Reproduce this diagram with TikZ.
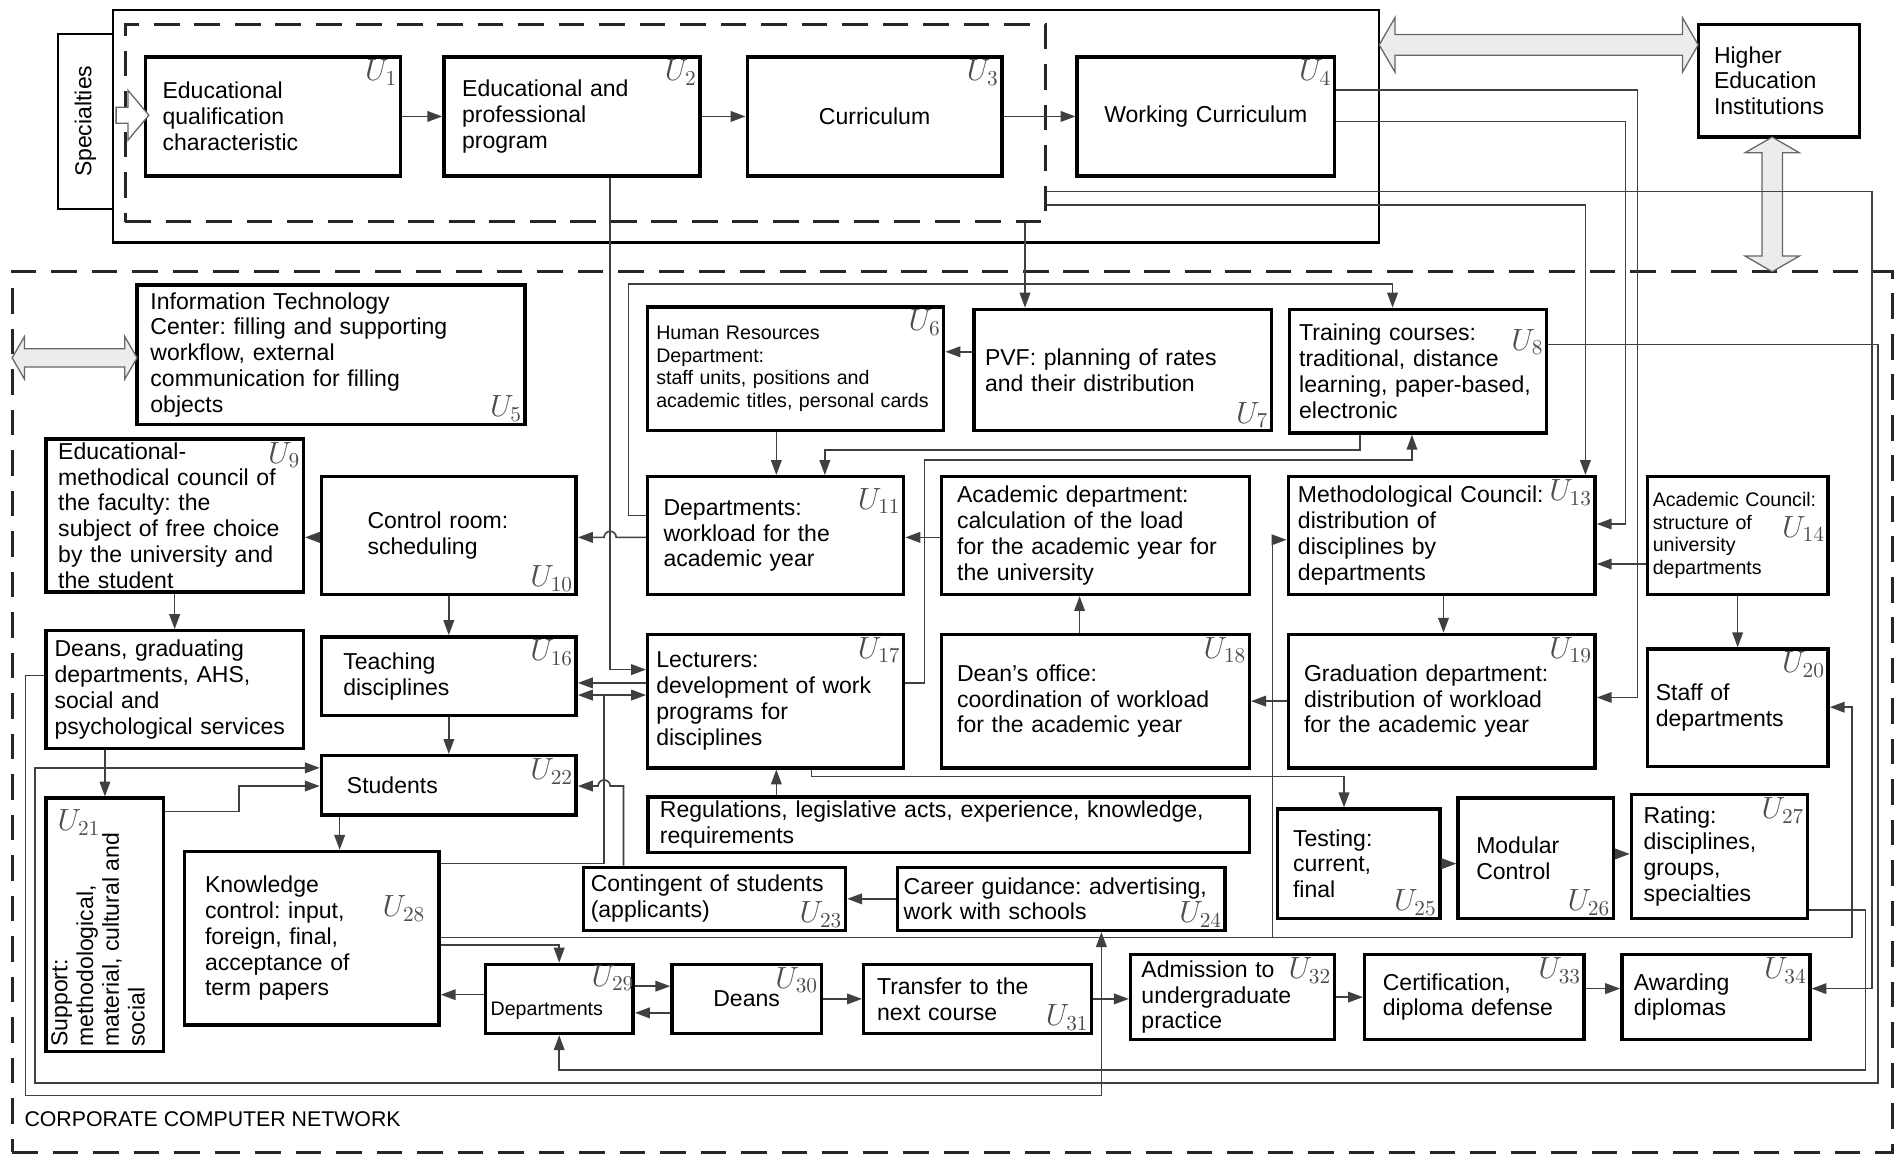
\documentclass[tikz,border=0pt]{standalone}
\usepackage{fontspec}
\setmainfont{Liberation Sans}
\frenchspacing
\usepackage{tikz}
\usetikzlibrary{arrows.meta, shapes.arrows}
\tikzset{
  box/.style={rectangle, draw=black, line width=1.6pt, inner sep=0pt, align=left, font=\fontsize{10.8}{12.1}\selectfont},
  smallbox/.style={box, font=\fontsize{9.2}{10.6}\selectfont},
  frame/.style={rectangle, draw=black, line width=1.1pt, inner sep=0pt},
  dashframe/.style={rectangle, draw=black!85, line width=1.4pt, dash pattern=on 12pt off 7pt, inner sep=0pt},
  conn/.style={draw=black!75, line width=0.75pt},
  arrowline/.style={conn, -{Triangle[length=7pt, width=5pt]}},
  fatarrow/.style={double arrow, draw=black!60, fill=gray!15, line width=0.6pt, inner xsep=0pt, inner ysep=0.16cm, double arrow head extend=0.28cm, double arrow tip angle=120},
  ulab/.style={font=\Large, text=black!70, inner sep=2pt},
  utr/.style={label={[ulab, anchor=north east]north east:$U_{#1}$}},
  ubr/.style={label={[ulab, anchor=south east]south east:$U_{#1}$}},
}

\begin{document}
\begin{tikzpicture}[x=0.02cm, y=-0.02cm]
\useasboundingbox (0,0) rectangle (1568,960);
% frames
\node[dashframe, minimum width=31cm, minimum height=14.52cm] (ccn) at (785,587) {};
\node[frame, minimum width=20.88cm, minimum height=3.84cm] (top) at (615,104) {};
\node[dashframe, minimum width=15.18cm, minimum height=3.26cm] (core) at (482.5,101.5) {};
\node[frame, line width=1pt, minimum width=0.9cm, minimum height=2.88cm] (spec) at (70.5,100) {};
\node[rotate=90, font=\fontsize{10.8}{12.1}\selectfont] (spectxt) at (spec) {Specialties};
\node[anchor=west, font=\fontsize{10}{12}\selectfont] (ccnlab) at (14,923) {CORPORATE COMPUTER NETWORK};

% blocks
\node[box, minimum width=4.2cm, minimum height=1.96cm, text width=3.64cm, utr=1] (u1) at (225,96) {Educational\\qualification\\characteristic};
\node[box, minimum width=4.22cm, minimum height=1.96cm, text width=3.62cm, utr=2] (u2) at (471.5,96) {Educational and\\professional\\program};
\node[box, align=center, minimum width=4.2cm, minimum height=1.96cm, text width=3.6cm, utr=3] (u3) at (721,96) {Curriculum};
\node[box, align=center, minimum width=4.24cm, minimum height=1.96cm, text width=3.9cm, utr=4] (u4) at (994,96) {Working Curriculum};
\node[box, minimum width=2.66cm, minimum height=1.86cm, text width=2.14cm] (hei) at (1466.5,66.5) {Higher\\Education\\Institutions};
\node[box, minimum width=6.4cm, minimum height=2.3cm, text width=5.96cm, ubr=5] (u5) at (273,292.5) {Information Technology\\Center: filling and supporting\\workflow, external\\communication for filling\\objects};
\node[smallbox, minimum width=4.88cm, minimum height=2.04cm, text width=4.6cm, utr=6] (u6) at (656,304) {Human Resources\\Department:\\staff units, positions and\\academic titles, personal cards};
\node[box, minimum width=4.9cm, minimum height=2cm, text width=4.54cm, ubr=7] (u7) at (925.5,305) {PVF: planning of rates\\and their distribution};
\node[box, minimum width=4.24cm, minimum height=2.04cm, text width=3.92cm, label={[ulab, anchor=north east, yshift=-8pt]north east:$U_{8}$}] (u8) at (1169,306) {Training courses:\\traditional, distance\\learning, paper-based,\\electronic};
\node[box, minimum width=4.24cm, minimum height=2.52cm, text width=3.84cm, utr=9] (u9) at (144,425) {Educational-\\methodical council of\\the faculty: the\\subject of free choice\\by the university and\\the student};
\node[box, minimum width=4.2cm, minimum height=1.94cm, text width=2.68cm, ubr=10] (u10) at (370,441.5) {Control room:\\scheduling};
\node[box, minimum width=4.22cm, minimum height=1.94cm, text width=3.7cm, label={[ulab, anchor=north east, yshift=-4pt]north east:$U_{11}$}] (u11) at (639.5,441.5) {Departments:\\workload for the\\academic year};
\node[box, minimum width=5.08cm, minimum height=1.94cm, text width=4.56cm] (u12) at (903,441.5) {Academic department:\\calculation of the load\\for the academic year for\\the university};
\node[box, minimum width=5.06cm, minimum height=1.94cm, text width=4.74cm, utr=13] (u13) at (1188.5,441.5) {Methodological Council:\\distribution of\\disciplines by\\departments};
\node[smallbox, minimum width=2.98cm, minimum height=1.94cm, text width=2.8cm, label={[ulab, anchor=east, yshift=3pt]east:$U_{14}$}] (u14) at (1432.5,441.5) {Academic Council:\\structure of\\university\\departments};
\node[box, minimum width=4.24cm, minimum height=1.94cm, text width=3.96cm] (u15) at (144,568.5) {Deans, graduating\\departments, AHS,\\social and\\psychological services};
\node[box, minimum width=4.2cm, minimum height=1.3cm, text width=3.48cm, utr=16] (u16) at (370,557.5) {Teaching\\disciplines};
\node[box, minimum width=4.22cm, minimum height=2.2cm, text width=3.94cm, utr=17] (u17) at (639.5,578) {Lecturers:\\development of work\\programs for\\disciplines};
\node[box, minimum width=5.08cm, minimum height=2.2cm, text width=4.56cm, utr=18] (u18) at (903,578) {Dean's office:\\coordination of workload\\for the academic year};
\node[box, minimum width=5.06cm, minimum height=2.2cm, text width=4.54cm, utr=19] (u19) at (1188.5,578) {Graduation department:\\distribution of workload\\for the academic year};
\node[box, minimum width=2.98cm, minimum height=1.94cm, text width=2.7cm, utr=20] (u20) at (1432.5,583.5) {Staff of\\departments};
\node[box, minimum width=1.94cm, minimum height=4.18cm, label={[ulab, anchor=north west, xshift=4pt, yshift=-4pt]north west:$U_{21}$}] (u21) at (86.5,762.5) {};
\node[rotate=90, anchor=north west, align=left, inner sep=3pt, font=\fontsize{10.8}{12.1}\selectfont] (u21txt) at (u21.south west) {Support:\\methodological,\\material, cultural and\\social};
\node[box, minimum width=4.2cm, minimum height=0.98cm, text width=3.36cm, utr=22] (u22) at (370,647.5) {Students};
\node[box, minimum width=9.92cm, minimum height=0.92cm, text width=9.52cm] (reg) at (782,680) {Regulations, legislative acts, experience, knowledge,\\requirements};
\node[box, minimum width=2.68cm, minimum height=1.8cm, text width=2.16cm, ubr=25] (u25) at (1120,712) {Testing:\\current,\\final};
\node[box, minimum width=2.56cm, minimum height=1.98cm, text width=1.96cm, ubr=26] (u26) at (1266,707.5) {Modular\\Control};
\node[box, minimum width=2.9cm, minimum height=2.04cm, text width=2.5cm, utr=27] (u27) at (1417.5,706) {Rating:\\disciplines,\\groups,\\specialties};
\node[box, minimum width=4.2cm, minimum height=2.86cm, text width=3.52cm, label={[ulab, anchor=east, xshift=-5pt, yshift=14pt]east:$U_{28}$}] (u28) at (257,773.5) {Knowledge\\control: input,\\foreign, final,\\acceptance of\\term papers};
\node[box, minimum width=4.32cm, minimum height=1.04cm, text width=4.08cm, ubr=23] (u23) at (589,741) {Contingent of students\\(applicants)};
\node[box, minimum width=5.4cm, minimum height=1.04cm, text width=5.2cm, ubr=24] (u24) at (875,741) {Career guidance: advertising,\\work with schools};
\node[smallbox, minimum width=2.44cm, minimum height=1.14cm, text width=2.26cm, text height=17pt, label={[ulab, anchor=north east, xshift=2pt, yshift=1pt]north east:$U_{29}$}] (u29) at (461,823.5) {Departments};
\node[box, align=center, minimum width=2.46cm, minimum height=1.14cm, text width=2cm, utr=30] (u30) at (615.5,823.5) {Deans};
\node[box, minimum width=3.76cm, minimum height=1.14cm, text width=3.32cm, ubr=31] (u31) at (806,823.5) {Transfer to the\\next course};
\node[box, minimum width=3.36cm, minimum height=1.4cm, text width=3cm, utr=32] (u32) at (1016,822) {Admission to\\undergraduate\\practice};
\node[box, minimum width=3.62cm, minimum height=1.4cm, text width=3.02cm, utr=33] (u33) at (1215.5,822) {Certification,\\diploma defense};
\node[box, minimum width=3.1cm, minimum height=1.4cm, text width=2.7cm, utr=34] (u34) at (1414.5,822) {Awarding\\diplomas};

% broad links
\node[single arrow, draw=black!60, fill=white, line width=0.6pt, inner xsep=0pt, inner ysep=0.12cm, single arrow head extend=0.28cm, single arrow tip angle=100, minimum height=0.54cm] (specin) at (106.5,95) {};
\node[fatarrow, minimum height=5.26cm] (heilink) at (1268.5,37) {};
\node[fatarrow, rotate=90, minimum height=2.22cm] (netlink) at (1461,168.5) {};
\node[fatarrow, minimum height=2.06cm, inner ysep=0.14cm, double arrow head extend=0.2cm] (itlink) at (61.5,295) {};

% connectors
\draw[arrowline] (u1) -- (u2);
\draw[arrowline] (u2) -- (u3);
\draw[arrowline] (u3) -- (u4);
\draw[arrowline] (u2.south -| 503,0) |- (u17.west |- 0,552);
\draw[arrowline] (core.south -| 845,0) -- (u7.north -| 845,0);
\draw[arrowline] (u4.east |- 0,74) -| (1350,575) -- (u19.east |- 0,575);
\draw[arrowline] (u4.east |- 0,100) -| (1340,432) -- (u13.east |- 0,432);
\draw[arrowline] (core.east |- 0,169) -| (u13.north -| 1307,0);
\draw[arrowline] (core.east |- 0,158) -| (1543,815) -- (u34.east |- 0,815);
\draw[arrowline] (u8.east |- 0,284) -| (1548,893) -| (29,633) -- (u22.west |- 0,633);
\draw[arrowline] (u27.east |- 0,750) -| (1538,882) -| (u29.south);
\draw[arrowline] (u28.east |- 0,773) -| (1527,583) -- (u20.east |- 0,583);
\coordinate (j1) at (1049,773);
\draw[arrowline] (j1) |- (u13.west |- 0,445);
\draw[arrowline] (u28.east |- 0,779) -| (u29.north);
\coordinate (j2) at (498,573);
\draw[arrowline] (u28.east |- 0,712) -| (j2) -- (u16.east |- j2);
\draw[arrowline] (j2) -- (u17.west |- j2);
\draw[arrowline] (u17.west |- 0,563) -- (u16.east |- 0,563);
\draw[arrowline] (u23.north -| 514,0) |- (503,648) arc[start angle=0, end angle=-180, radius=5] -- (u22.east |- 0,648);
\draw[arrowline] (u11.west |- 0,443) -- (508,443) arc[start angle=0, end angle=-180, radius=5] -- (u10.east |- 0,443);
\draw[arrowline] (u10.west |- 0,443) -- (u9.east |- 0,443);
\draw[arrowline] (u10) -- (u16);
\draw[arrowline] (u16) -- (u22);
\draw[arrowline] (u9) -- (u15);
\draw[arrowline] (u15.south -| u21.north) -- (u21.north);
\draw[arrowline] (u22.south -| 280,0) -- (u28.north -| 280,0);
\draw[arrowline] (u21.east |- 0,669) -| (197,648) -- (u22.west |- 0,648);
\draw[arrowline] (u15.west |- 0,557) -| (21,903) -| (u24.south -| 908,0);
\draw[arrowline] (u17.east |- 0,563) -| (762,379) -| (u8.south -| 1164,0);
\draw[arrowline] (u8.south -| 1121,0) |- (680,371) -- (u11.north -| 680,0);
\draw[arrowline] (u6.south -| 640,0) -- (u11.north -| 640,0);
\draw[arrowline] (u7.west |- 0,290) -- (u6.east |- 0,290);
\draw[arrowline] (u11.west |- 0,425) -| (518,234) -| (u8.north -| 1148,0);
\draw[arrowline] (u12.west |- 0,443) -- (u11.east |- 0,443);
\draw[arrowline] (u18.north -| 890,0) -- (u12.south -| 890,0);
\draw[arrowline] (u19.west |- 0,578) -- (u18.east |- 0,578);
\draw[arrowline] (u13.south -| 1190,0) -- (u19.north -| 1190,0);
\draw[arrowline] (u14.west |- 0,465) -- (u13.east |- 0,465);
\draw[arrowline] (u14) -- (u20);
\draw[arrowline] (reg.north -| 640,0) -- (u17.south -| 640,0);
\draw[arrowline] (u17.south -| 669,0) |- (1108,640) -- (u25.north -| 1108,0);
\draw[arrowline] (u25.east |- 0,712) -- (u26.west |- 0,712);
\draw[arrowline] (u26.east |- 0,704) -- (u27.west |- 0,704);
\draw[arrowline] (u24) -- (u23);
\draw[arrowline] (u29.east |- 0,813) -- (u30.west |- 0,813);
\draw[arrowline] (u30.west |- 0,835) -- (u29.east |- 0,835);
\draw[arrowline] (u29.west |- 0,820) -- (u28.east |- 0,820);
\draw[arrowline] (u30) -- (u31);
\draw[arrowline] (u31.east) -- (u31.east -| u32.west);
\draw[arrowline] (u32) -- (u33);
\draw[arrowline] (u33.east |- 0,815) -- (u34.west |- 0,815);
\end{tikzpicture}
\end{document}
